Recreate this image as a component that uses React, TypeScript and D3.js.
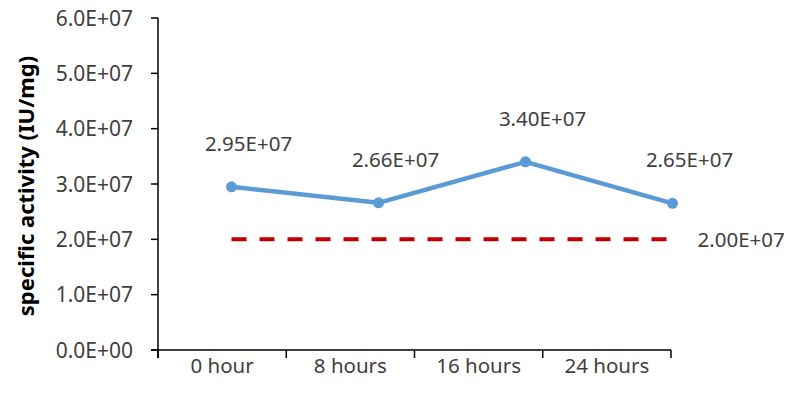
import React from "react";
import * as d3 from "d3";

const categories = ["0 hour", "8 hours", "16 hours", "24 hours"];
const activity = [2.95e7, 2.66e7, 3.4e7, 2.65e7];
const reference = [2e7, 2e7, 2e7, 2e7];
const yTicks = [0, 1e7, 2e7, 3e7, 4e7, 5e7, 6e7];

const W = 789;
const H = 402;
const left = 158;
const right = 671;
const top = 18;
const bottom = 350;

// 6.0E+7 -> 6.0E+07
const expo = (v: number, digits: number) =>
  v.toExponential(digits).toUpperCase().replace(/E([+-])(\d)$/, "E$10$2");

export default function App() {
  const x = d3.scaleBand().domain(categories).range([left, right]);
  // the series sits on a slightly wider category axis, like the source chart
  const xs = d3.scaleBand().domain(categories).range([left, left + 4 * 147]);
  const y = d3.scaleLinear().domain([0, 6e7]).range([bottom, top]);
  const cx = (c: string) => (xs(c) as number) + xs.bandwidth() / 2;

  const line = d3
    .line<number>()
    .x((_, i) => cx(categories[i]))
    .y((d) => y(d));

  const font = "'Noto Sans', sans-serif";
  const textColor = "#404040";
  const bounds = [...categories.map((c) => x(c) as number), right];

  return (
    <svg width={W} height={H} style={{ position: "absolute", left: 0, top: 0 }} fontFamily={font}>
      <rect width={W} height={H} fill="#fff" />
      {/* y axis */}
      <line x1={left} x2={left} y1={top} y2={bottom + 8} stroke="#000" strokeWidth={1.5} />
      {yTicks.map((t) => (
        <g key={t}>
          <line x1={left - 7} x2={left} y1={y(t)} y2={y(t)} stroke="#000" strokeWidth={1.5} />
          <text x={left - 25} y={y(t)} dy="0.36em" textAnchor="end" fontSize={21} fill={textColor}>
            {expo(t, 1)}
          </text>
        </g>
      ))}
      {/* x axis */}
      <line x1={left - 7} x2={right} y1={bottom} y2={bottom} stroke="#000" strokeWidth={1.5} />
      {bounds.map((b, i) => (
        <line key={i} x1={b} x2={b} y1={bottom} y2={bottom + 8} stroke="#000" strokeWidth={1.5} />
      ))}
      {categories.map((c) => (
        <text
          key={c}
          x={(x(c) as number) + x.bandwidth() / 2}
          y={373}
          textAnchor="middle"
          fontSize={20.5}
          fill={textColor}
        >
          {c}
        </text>
      ))}
      <text
        transform={`translate(34,${(top + bottom) / 2 + 2}) rotate(-90)`}
        textAnchor="middle"
        fontSize={22}
        fontWeight="bold"
        fill="#000"
      >
        specific activity (IU/mg)
      </text>

      {/* reference line */}
      <path d={line(reference) ?? ""} fill="none" stroke="#C00000" strokeWidth={4} strokeDasharray="15 13" />
      <text
        x={cx(categories[3]) + 25}
        y={y(reference[3])}
        dy="0.36em"
        fontSize={20.5}
        fill={textColor}
      >
        {expo(reference[3], 2)}
      </text>

      {/* activity series */}
      <path d={line(activity) ?? ""} fill="none" stroke="#5B9BD5" strokeWidth={4.5} strokeLinejoin="round" />
      {activity.map((v, i) => (
        <circle key={i} cx={cx(categories[i])} cy={y(v)} r={5.5} fill="#5B9BD5" />
      ))}
      {activity.map((v, i) => (
        <text
          key={i}
          x={cx(categories[i]) + 17}
          y={y(v) - 36}
          textAnchor="middle"
          fontSize={20.5}
          fill={textColor}
        >
          {expo(v, 2)}
        </text>
      ))}
    </svg>
  );
}
